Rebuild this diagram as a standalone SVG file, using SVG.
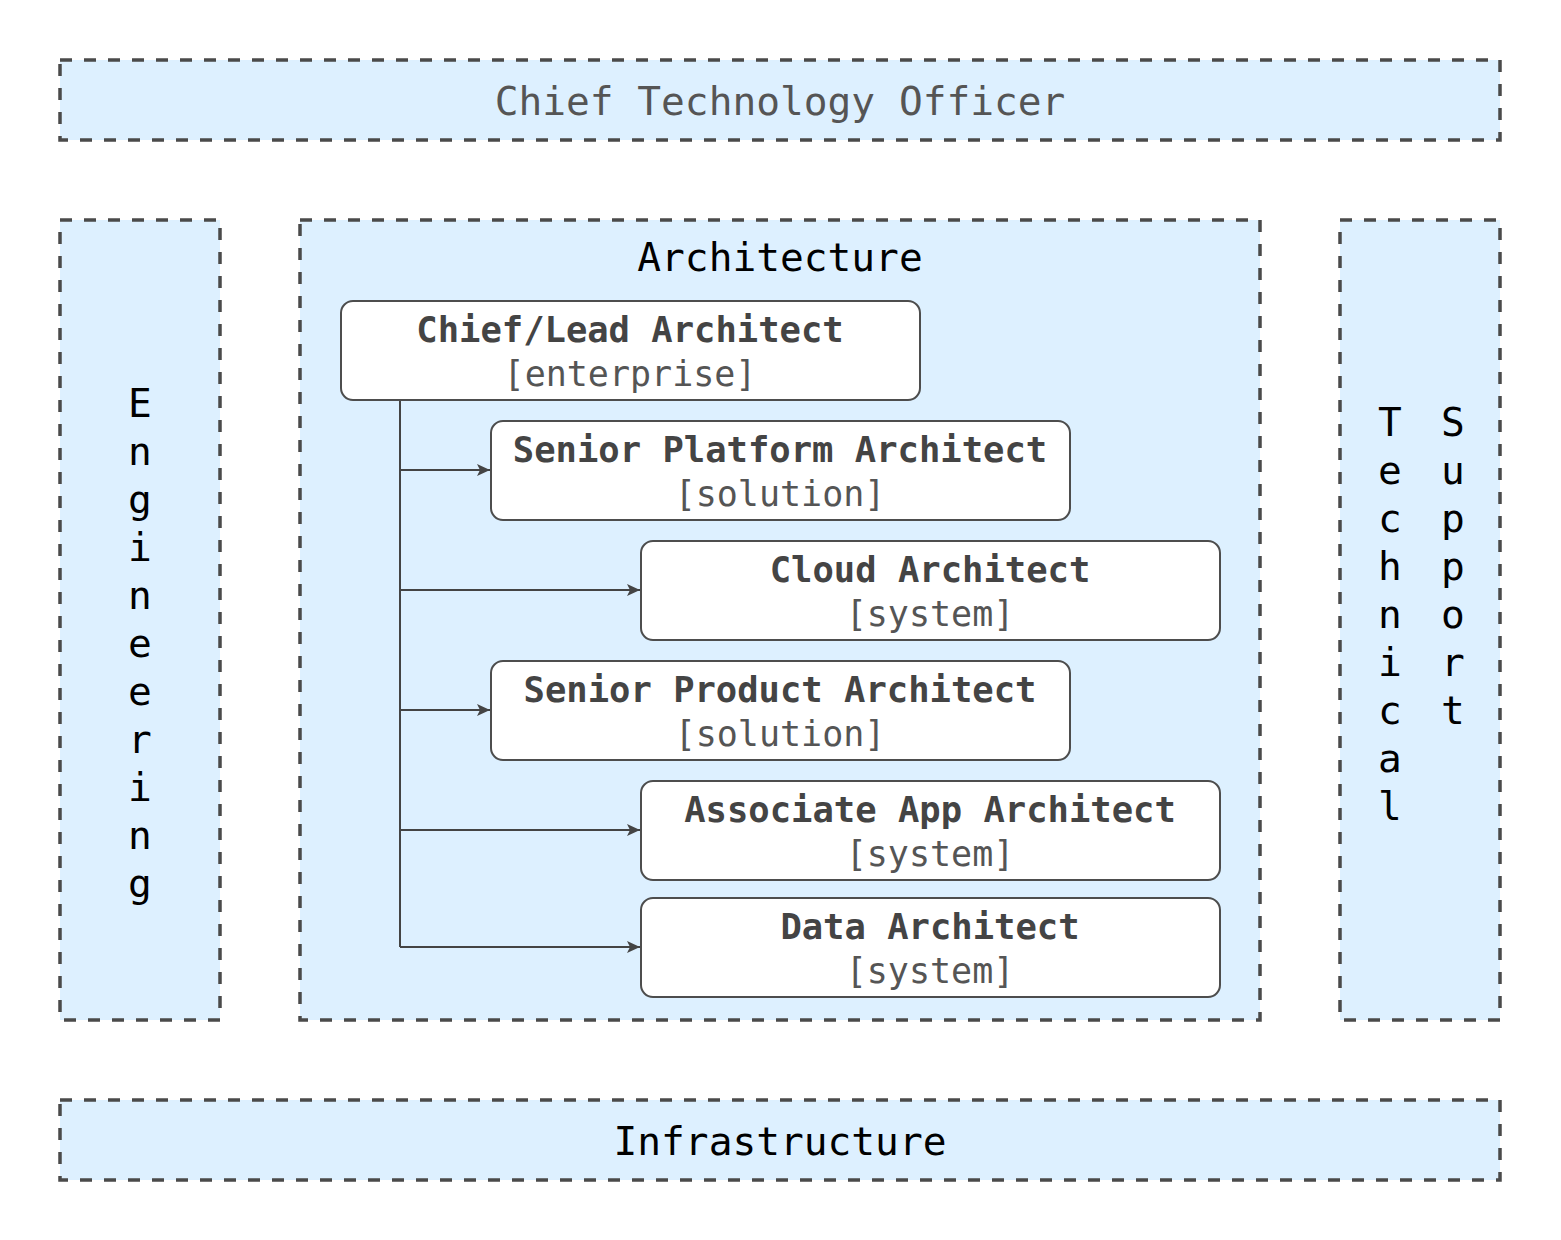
<svg xmlns="http://www.w3.org/2000/svg" width="1561" height="1240" viewBox="0 0 1561 1240">
<style>
.grp{fill:#ddf0ff;stroke:#4a4a4a;stroke-width:3.5;stroke-dasharray:12 12}
.node{fill:#ffffff;stroke:#4d4d4d;stroke-width:2}
.lbl{font-family:"DejaVu Sans Mono","Liberation Mono",monospace;font-size:39.5px;text-anchor:middle;fill:#000}
.ttl{font-family:"DejaVu Sans Mono","Liberation Mono",monospace;font-size:35.5px;font-weight:bold;text-anchor:middle;fill:#444}
.sub{font-family:"DejaVu Sans Mono","Liberation Mono",monospace;font-size:35px;text-anchor:middle;fill:#555}
.edge{fill:none;stroke:#444;stroke-width:2}
</style>
<defs>
<marker id="arr" markerWidth="13" markerHeight="12" refX="13" refY="6" orient="auto" markerUnits="userSpaceOnUse">
<path d="M0,0 L13,6 L0,12 L3,6 z" fill="#444"/>
</marker>
</defs>
<rect width="1561" height="1240" fill="#ffffff"/>
<g id="cto">
<rect class="grp" x="60" y="60" width="1440" height="80"/>
<text class="lbl" x="780" y="115" style="fill:#555">Chief Technology Officer</text>
</g>
<g id="engineering">
<rect class="grp" x="60" y="220" width="160" height="800"/>
<text class="lbl" x="140"><tspan x="140" y="417">E</tspan><tspan x="140" y="465">n</tspan><tspan x="140" y="513">g</tspan><tspan x="140" y="561">i</tspan><tspan x="140" y="609">n</tspan><tspan x="140" y="657">e</tspan><tspan x="140" y="705">e</tspan><tspan x="140" y="753">r</tspan><tspan x="140" y="801">i</tspan><tspan x="140" y="849">n</tspan><tspan x="140" y="897">g</tspan></text>
</g>
<g id="architecture">
<rect class="grp" x="300" y="220" width="960" height="800"/>
<text class="lbl" x="780" y="271">Architecture</text>
</g>
<g id="techsupport">
<rect class="grp" x="1340" y="220" width="160" height="800"/>
<text class="lbl"><tspan x="1390" y="436">T</tspan><tspan x="1390" y="484">e</tspan><tspan x="1390" y="532">c</tspan><tspan x="1390" y="580">h</tspan><tspan x="1390" y="628">n</tspan><tspan x="1390" y="676">i</tspan><tspan x="1390" y="724">c</tspan><tspan x="1390" y="772">a</tspan><tspan x="1390" y="820">l</tspan></text>
<text class="lbl"><tspan x="1453" y="436">S</tspan><tspan x="1453" y="484">u</tspan><tspan x="1453" y="532">p</tspan><tspan x="1453" y="580">p</tspan><tspan x="1453" y="628">o</tspan><tspan x="1453" y="676">r</tspan><tspan x="1453" y="724">t</tspan></text>
</g>
<g id="infrastructure">
<rect class="grp" x="60" y="1100" width="1440" height="80"/>
<text class="lbl" x="780" y="1155">Infrastructure</text>
</g>
<g id="connectors">
<path class="edge" d="M400,400 L400,947"/>
<path class="edge" d="M400,470 L490,470" marker-end="url(#arr)"/>
<path class="edge" d="M400,590 L640,590" marker-end="url(#arr)"/>
<path class="edge" d="M400,710 L490,710" marker-end="url(#arr)"/>
<path class="edge" d="M400,830 L640,830" marker-end="url(#arr)"/>
<path class="edge" d="M400,947 L640,947" marker-end="url(#arr)"/>
</g>
<g id="chief-lead">
<rect class="node" x="341" y="301" width="579" height="99" rx="12"/>
<text class="ttl" x="630" y="342">Chief/Lead Architect</text>
<text class="sub" x="630" y="386">[enterprise]</text>
</g>
<g id="senior-platform">
<rect class="node" x="491" y="421" width="579" height="99" rx="12"/>
<text class="ttl" x="780" y="462">Senior Platform Architect</text>
<text class="sub" x="780" y="506">[solution]</text>
</g>
<g id="cloud">
<rect class="node" x="641" y="541" width="579" height="99" rx="12"/>
<text class="ttl" x="930" y="582">Cloud Architect</text>
<text class="sub" x="930" y="626">[system]</text>
</g>
<g id="senior-product">
<rect class="node" x="491" y="661" width="579" height="99" rx="12"/>
<text class="ttl" x="780" y="702">Senior Product Architect</text>
<text class="sub" x="780" y="746">[solution]</text>
</g>
<g id="associate-app">
<rect class="node" x="641" y="781" width="579" height="99" rx="12"/>
<text class="ttl" x="930" y="822">Associate App Architect</text>
<text class="sub" x="930" y="866">[system]</text>
</g>
<g id="data">
<rect class="node" x="641" y="898" width="579" height="99" rx="12"/>
<text class="ttl" x="930" y="939">Data Architect</text>
<text class="sub" x="930" y="983">[system]</text>
</g>
</svg>
